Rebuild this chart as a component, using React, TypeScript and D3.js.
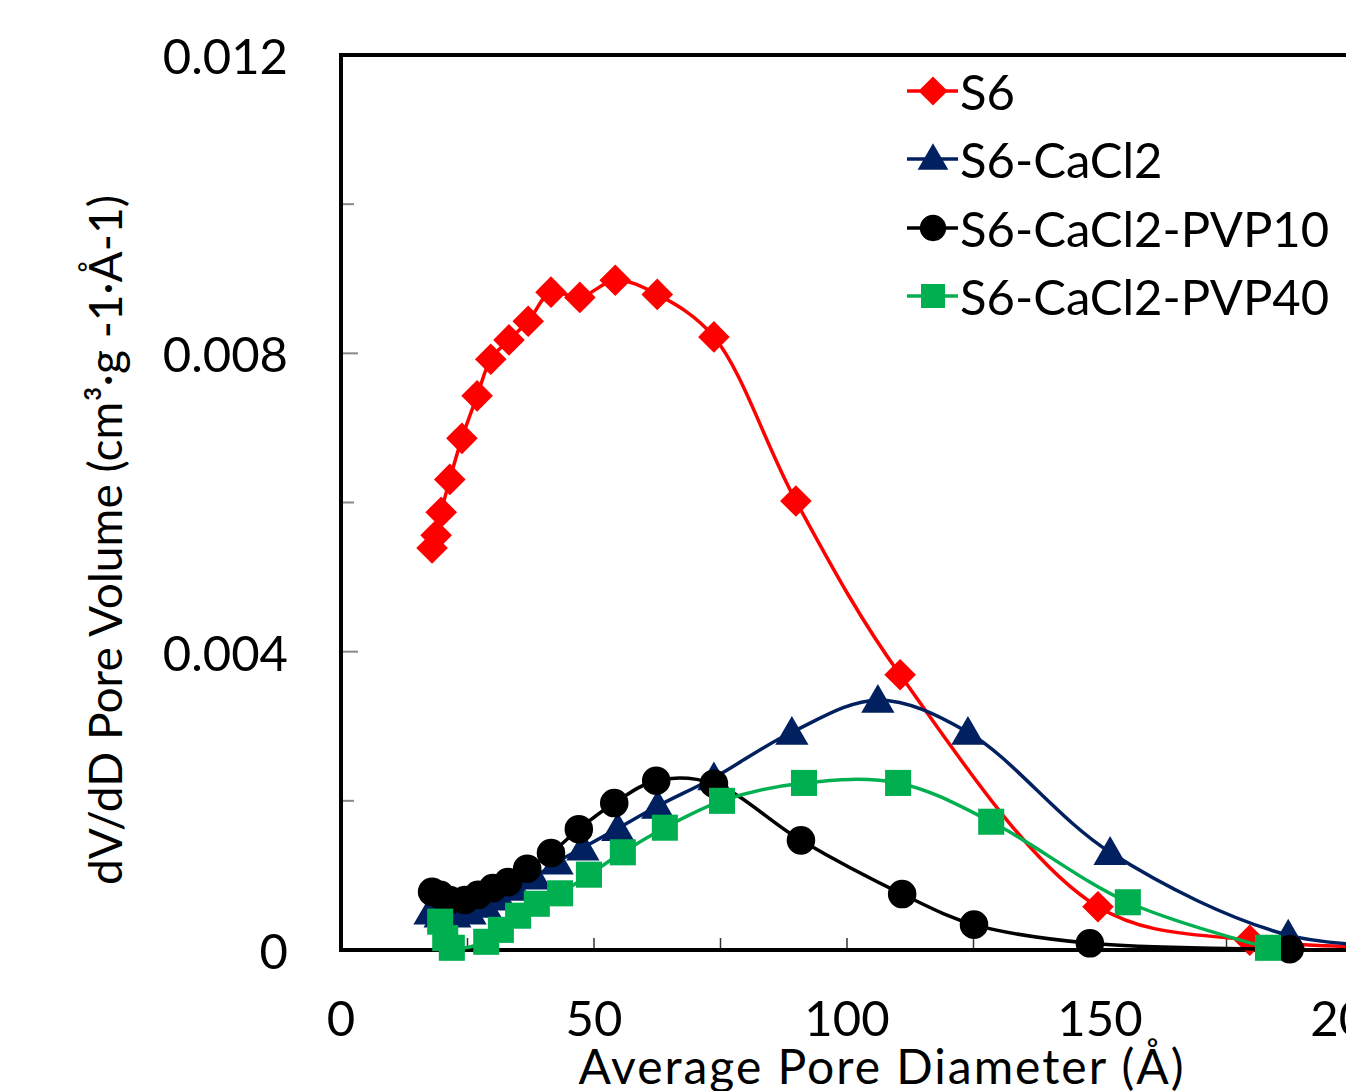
import React, { useEffect, useRef } from "react";
import * as d3 from "d3";

// pore diameter (Å) and dV/dD values
const s6X = [18.0, 18.8, 19.8, 21.5, 23.9, 26.9, 29.6, 33.2, 37.0, 41.5, 47.2, 54.2, 62.5, 73.7, 89.9, 110.5, 149.6, 179.6, 215];
const s6Y = [0.00539, 0.00556, 0.00587, 0.00631, 0.00686, 0.00743, 0.00792, 0.00818, 0.00843, 0.00882, 0.00875, 0.00898, 0.00879, 0.00822, 0.00602, 0.00369, 0.00058, 0.00013, 0.00003];

const cacl2X = [17.6, 19.6, 22.5, 25.5, 28.5, 31.4, 34.4, 38.3, 42.7, 47.8, 54.7, 62.6, 73.7, 89.1, 106.1, 123.9, 152.0, 187.2, 215];
const cacl2Y = [0.00051, 0.00047, 0.00047, 0.00051, 0.0006, 0.0007, 0.00083, 0.00098, 0.00118, 0.00137, 0.00163, 0.00193, 0.00231, 0.00292, 0.00335, 0.00292, 0.00131, 0.0002, 0.00005];

const pvp10X = [18.0, 19.6, 21.5, 24.5, 27.1, 30.0, 33.0, 36.8, 41.5, 47.0, 54.0, 62.3, 73.7, 90.9, 110.9, 125.1, 148.0, 187.5];
const pvp10Y = [0.00078, 0.00074, 0.00067, 0.00067, 0.00074, 0.00083, 0.00091, 0.00109, 0.0013, 0.00162, 0.00197, 0.00227, 0.00223, 0.00147, 0.00075, 0.00034, 0.00009, 0.00001];

const pvp40X = [19.6, 20.6, 21.9, 28.7, 31.6, 35.0, 38.7, 43.3, 49.0, 55.7, 64.0, 75.3, 91.5, 110.1, 128.5, 155.5, 183.2];
const pvp40Y = [0.00038, 0.00016, 0.00003, 0.00011, 0.00027, 0.00046, 0.00062, 0.00076, 0.00101, 0.00131, 0.00164, 0.002, 0.00224, 0.00224, 0.00172, 0.00064, 0.00003];

const seriesNames = ["S6", "S6-CaCl2", "S6-CaCl2-PVP10", "S6-CaCl2-PVP40"];
const xTickLabels = [0, 50, 100, 150, 200];
const yTickLabels = [0, 0.004, 0.008, 0.012];

const W = 1346;
const H = 1091;
const FONT = "Lato, 'Open Sans', sans-serif";

export default function App() {
  const svgRef = useRef<SVGSVGElement>(null);

  useEffect(() => {
    const svg = d3.select(svgRef.current);
    svg.selectAll("*").remove();

    const x = d3.scaleLinear().domain([0, 200]).range([341, 1353]);
    const y = d3.scaleLinear().domain([0, 0.012]).range([950, 55]);

    // diamond = square turned 45 degrees
    const series = [
      { name: seriesNames[0], xs: s6X, ys: s6Y, color: "#ff0000", symbol: d3.symbolSquare, size: 500, rot: 45, dy: 0 },
      { name: seriesNames[1], xs: cacl2X, ys: cacl2Y, color: "#002060", symbol: d3.symbolTriangle, size: 480, rot: 0, dy: 3 },
      { name: seriesNames[2], xs: pvp10X, ys: pvp10Y, color: "#000000", symbol: d3.symbolCircle, size: 640, rot: 0, dy: 0 },
      { name: seriesNames[3], xs: pvp40X, ys: pvp40Y, color: "#00b050", symbol: d3.symbolSquare, size: 680, rot: 0, dy: 0 },
    ];

    // y ticks (inside, grey)
    const yTicks = d3.range(0.002, 0.0121, 0.002);
    svg.append("g")
      .selectAll("line")
      .data(yTicks)
      .join("line")
      .attr("x1", 341)
      .attr("x2", (d) => (Math.round(d * 1000) % 4 === 0 ? 358 : 354))
      .attr("y1", (d) => y(d))
      .attr("y2", (d) => y(d))
      .attr("stroke", "#888")
      .attr("stroke-width", 2);

    // x ticks (inside)
    svg.append("g")
      .selectAll("line")
      .data(d3.range(25, 226, 25))
      .join("line")
      .attr("x1", (d) => x(d))
      .attr("x2", (d) => x(d))
      .attr("y1", 950)
      .attr("y2", 938)
      .attr("stroke", "#333")
      .attr("stroke-width", 1.5);

    // frame
    svg.append("path")
      .attr("d", `M1400,55 H341 V950 H1400`)
      .attr("fill", "none")
      .attr("stroke", "#000")
      .attr("stroke-width", 4);

    // tick labels
    svg.append("g")
      .selectAll("text")
      .data(yTickLabels)
      .join("text")
      .attr("x", 288)
      .attr("y", (d) => y(d))
      .attr("text-anchor", "end")
      .attr("dominant-baseline", "central")
      .attr("font-family", FONT)
      .attr("font-size", 49)
      .text((d) => (d === 0 ? "0" : d3.format(".3f")(d)));

    svg.append("g")
      .selectAll("text")
      .data(xTickLabels)
      .join("text")
      .attr("x", (d) => x(d))
      .attr("y", 1017)
      .attr("text-anchor", "middle")
      .attr("dominant-baseline", "central")
      .attr("font-family", FONT)
      .attr("font-size", 49)
      .text((d) => String(d));

    // axis titles
    svg.append("text")
      .attr("x", 881)
      .attr("y", 1084)
      .attr("text-anchor", "middle")
      .attr("font-family", FONT)
      .attr("font-size", 48)
      .attr("textLength", 605)
      .attr("lengthAdjust", "spacing")
      .text("Average Pore Diameter (Å)");

    svg.append("text")
      .attr("transform", "translate(122,540) rotate(-90)")
      .attr("text-anchor", "middle")
      .attr("font-family", FONT)
      .attr("font-size", 46)
      .attr("textLength", 690)
      .attr("lengthAdjust", "spacing")
      .text("dV/dD Pore Volume (cm³·g -1·Å-1)");

    const line = d3.line<[number, number]>()
      .x((d) => x(d[0]))
      .y((d) => y(d[1]))
      .curve(d3.curveCatmullRom.alpha(0.5));

    series.forEach((s) => {
      const pts: [number, number][] = s.xs.map((v, i) => [v, s.ys[i]]);
      const g = svg.append("g");
      g.append("path")
        .attr("d", line(pts))
        .attr("fill", "none")
        .attr("stroke", s.color)
        .attr("stroke-width", 3.5);
      const sym = d3.symbol().type(s.symbol).size(s.size);
      g.selectAll("path.m")
        .data(pts.filter((p) => p[0] <= 200))
        .join("path")
        .attr("class", "m")
        .attr("d", sym)
        .attr("transform", (d) => `translate(${x(d[0])},${y(d[1]) + s.dy}) rotate(${s.rot})`)
        .attr("fill", s.color);
    });

    // legend
    const legendY = [91, 159, 228, 296];
    series.forEach((s, i) => {
      const g = svg.append("g").attr("transform", `translate(0,${legendY[i]})`);
      g.append("line")
        .attr("x1", 907)
        .attr("x2", 958)
        .attr("stroke", s.color)
        .attr("stroke-width", 3.5);
      g.append("path")
        .attr("d", d3.symbol().type(s.symbol).size(s.size * 0.85)())
        .attr("transform", `translate(933,${s.dy ? 2 : 0}) rotate(${s.rot})`)
        .attr("fill", s.color);
      g.append("text")
        .attr("x", 960)
        .attr("y", 0)
        .attr("dominant-baseline", "central")
        .attr("font-family", FONT)
        .attr("font-size", 49)
        .text(s.name);
    });
  }, []);

  return (
    <div style={{ position: "absolute", left: 0, top: 0 }}>
      <svg ref={svgRef} width={W} height={H} style={{ display: "block", background: "#fff" }} />
    </div>
  );
}
